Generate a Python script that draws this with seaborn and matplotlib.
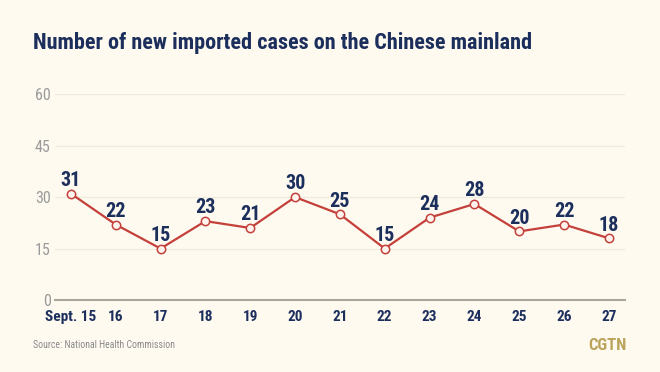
import matplotlib
matplotlib.use("Agg")
import matplotlib.pyplot as plt
import pandas as pd
import seaborn as sns
from matplotlib import font_manager

days = ["Sept. 15", "16", "17", "18", "19", "20", "21", "22", "23", "24", "25", "26", "27"]
cases = [31, 22, 15, 23, 21, 30, 25, 15, 24, 28, 20, 22, 18]
y_ticks = [0, 15, 30, 45, 60]

BG = "#fefaf0"
NAVY = "#1c2f5c"
RED = "#c4403a"
GREY = "#9a9a9a"

sns.set_theme(style="white")
names = {f.name for f in font_manager.fontManager.ttflist}
cond = "DejaVu Sans"
for cand in ["Roboto Condensed", "Liberation Sans Narrow", "Open Sans Condensed"]:
    if cand in names:
        cond = cand
        break
plt.rcParams["font.family"] = [cond, "DejaVu Sans"]
plt.rcParams["font.stretch"] = "condensed"

df = pd.DataFrame({"day": range(len(days)), "cases": cases})

fig = plt.figure(figsize=(6.6, 3.72), dpi=100, facecolor=BG)
ax = fig.add_axes([0.083, 0.1935, 0.864, 0.5533], facecolor=BG)

sns.lineplot(data=df, x="day", y="cases", ax=ax, color=RED, linewidth=1.6,
             marker="o", markersize=6, markerfacecolor="#fff4ee",
             markeredgecolor=RED, markeredgewidth=1.1, zorder=3)

for x, y in zip(df["day"], df["cases"]):
    ax.annotate(str(y), (x, y), xytext=(0, 5.5), textcoords="offset points",
                ha="center", va="baseline", fontsize=14.5, fontweight="bold",
                color=NAVY)

ax.set_xlim(-0.36, len(days) - 1 + 0.36)
ax.set_ylim(0, 60)
ax.set_yticks(y_ticks)
ax.set_yticklabels([str(t) for t in y_ticks])
ax.set_xticks(range(len(days)))
ax.set_xticklabels(days)
ax.set_xlabel("")
ax.set_ylabel("")

ax.grid(axis="y", color="#efebdf", linewidth=1)
ax.set_axisbelow(True)
for s in ["top", "right", "left"]:
    ax.spines[s].set_visible(False)
ax.spines["bottom"].set_color("#a8a8a0")
ax.spines["bottom"].set_linewidth(1.5)

ax.tick_params(axis="y", length=0, labelsize=11.5, labelcolor=GREY, pad=3)
ax.tick_params(axis="x", length=5, width=1.2, color="#a8a8a0", direction="out",
               labelsize=11, labelcolor=NAVY, pad=2)
for lbl in ax.get_xticklabels():
    lbl.set_fontweight("bold")

title = fig.text(33 / 660, 1 - 43 / 372, "Number of new imported cases on the Chinese mainland",
                 fontsize=17, fontweight="bold", color=NAVY, va="center", ha="left")
# shrink the title until it spans the same width as the reference (~500 px)
renderer = fig.canvas.get_renderer()
w = title.get_window_extent(renderer).width
if w > 502:
    title.set_fontsize(17 * 502 / w)

fig.text(33 / 660, 1 - 345 / 372, "Source: National Health Commission",
         fontsize=7, color="#8a8a8a", va="center", ha="left")
fig.text(627 / 660, 1 - 346 / 372, "CGTN", fontsize=12, fontweight="bold",
         color="#bba35a", va="center", ha="right")

fig.savefig("out.png", dpi=100, facecolor=BG)
